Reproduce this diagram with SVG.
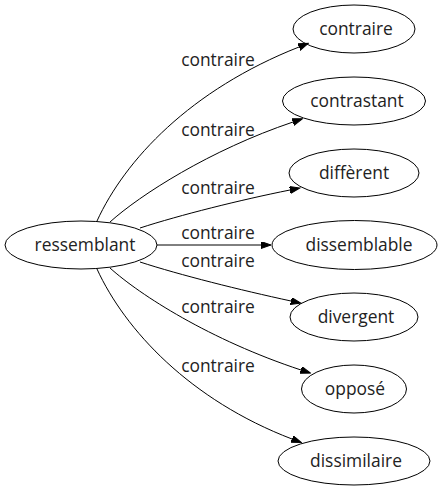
<svg xmlns="http://www.w3.org/2000/svg" width="441" height="491" viewBox="0 0 441 491">
<style>
.node ellipse{fill:none;stroke:#000;stroke-width:1}
text{font-family:"Open Sans","DejaVu Sans",sans-serif;font-size:17.4px;fill:#222;text-anchor:middle}
.edge path{fill:none;stroke:#000;stroke-width:1;marker-end:url(#arr)}
</style>
<defs>
<marker id="arr" markerUnits="userSpaceOnUse" markerWidth="11" markerHeight="8" refX="0" refY="3.5" orient="auto">
<path d="M0,0 L10,3.5 L0,7 z" fill="#000" stroke="#000" stroke-width="1"/>
</marker>
</defs>
<g id="connectors" class="edge">
<path d="M97,221 C125,160 190,90 299,47"/>
<path d="M110,222 C140,195 210,150 293,122"/>
<path d="M140,228 C180,215 240,200 290,190"/>
<path d="M157,245 L261,245"/>
<path d="M140,262 C180,275 240,290 291,301"/>
<path d="M110,268 C140,295 210,340 301,370"/>
<path d="M97,269 C125,330 190,400 292,439"/>
<text x="218" y="66">contraire</text>
<text x="218" y="136">contraire</text>
<text x="218" y="194">contraire</text>
<text x="218" y="239">contraire</text>
<text x="218" y="267">contraire</text>
<text x="218" y="313">contraire</text>
<text x="218" y="372">contraire</text>
</g>
<g id="ressemblant" class="node"><ellipse cx="81" cy="245" rx="76" ry="24"/><text x="85" y="251">ressemblant</text></g>
<g id="contraire" class="node"><ellipse cx="354" cy="29" rx="61" ry="24"/><text x="356" y="35">contraire</text></g>
<g id="contrastant" class="node"><ellipse cx="354" cy="101" rx="71.5" ry="24"/><text x="357" y="107">contrastant</text></g>
<g id="different" class="node"><ellipse cx="354" cy="173" rx="65" ry="24"/><text x="354" y="179">diffèrent</text></g>
<g id="dissemblable" class="node"><ellipse cx="354.5" cy="245" rx="82.5" ry="24.5"/><text x="359" y="251">dissemblable</text></g>
<g id="divergent" class="node"><ellipse cx="354" cy="317" rx="64" ry="24"/><text x="356" y="323">divergent</text></g>
<g id="oppose" class="node"><ellipse cx="354" cy="389" rx="52.5" ry="24"/><text x="355" y="395">opposé</text></g>
<g id="dissimilaire" class="node"><ellipse cx="354" cy="461" rx="76" ry="24"/><text x="356" y="467">dissimilaire</text></g>
</svg>
